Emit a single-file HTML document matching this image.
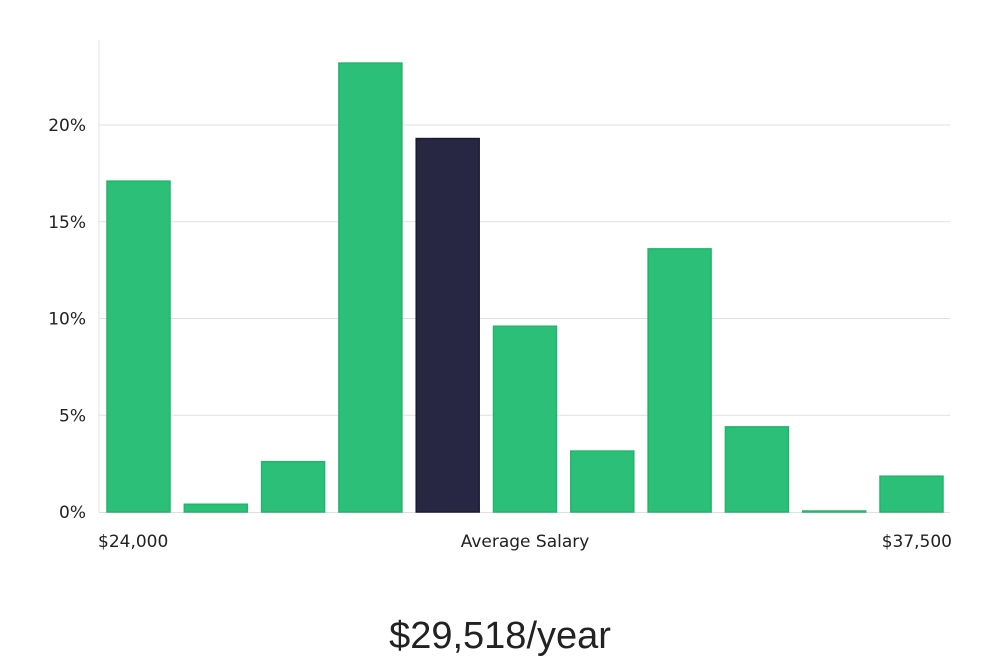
<!DOCTYPE html>
<html><head><meta charset="utf-8"><style>
body{margin:0;background:#fff;width:1000px;height:660px;overflow:hidden;font-family:"DejaVu Sans","Liberation Sans",sans-serif}
</style></head><body>
<svg id="chart" width="1000" height="660" xmlns="http://www.w3.org/2000/svg"></svg>
<script>
const values=[17.1,0.4,2.6,23.2,19.3,9.6,3.15,13.6,4.4,0.05,1.85];
const highlight=[false,false,false,false,true,false,false,false,false,false,false];
const yTicks=[0,5,10,15,20];
const yTickLabels=["0%","5%","10%","15%","20%"];
const xLabels=["$24,000","Average Salary","$37,500"];
const NS="http://www.w3.org/2000/svg";
const svg=document.getElementById('chart');
const x0=103,pitch=77.3,bw=63,yBase=512,pxPer=19.35;
const y=v=>yBase-v*pxPer;
const xb=i=>x0+4+i*pitch;
function mk(t,a,txt){const e=document.createElementNS(NS,t);for(const k in a)e.setAttribute(k,a[k]);if(txt!==undefined)e.textContent=txt;svg.appendChild(e);return e;}
yTicks.forEach((t,i)=>{
 if(t>0){const g=mk('line',{x1:99,x2:950,y1:y(t),y2:y(t),stroke:'#e0e0e0','stroke-width':1});
 
 }
 const l=mk('text',{x:86,y:y(t)+6,'text-anchor':'end','font-size':17,fill:'#222'},yTickLabels[i]);
 
 
});
const ax=mk('line',{x1:99,x2:99,y1:40,y2:512,stroke:'#e0e0e0','stroke-width':1});


const bx=mk('line',{x1:99,x2:950,y1:512.5,y2:512.5,stroke:'#e0e0e0','stroke-width':1});


values.forEach((v,i)=>{
 const r=mk('rect',{x:xb(i),y:y(v),width:bw,height:Math.max(yBase-y(v),1),fill:highlight[i]?'#272643':'#2bbf77',stroke:highlight[i]?'#1c1b33':'#22b56c','stroke-width':1.5});
 
 
});
const xl=[[98,'start'],[525,'middle'],[952,'end']];
xLabels.forEach((s,i)=>{
 const t=mk('text',{x:xl[i][0],y:547,'text-anchor':xl[i][1],'font-size':17,fill:'#222'},s);
 
 
});
const h=mk('text',{x:500,y:648,'text-anchor':'middle','font-size':38,fill:'#222','font-family':'"Liberation Sans",sans-serif'},'$29,518/year');


</script>
</body></html>
